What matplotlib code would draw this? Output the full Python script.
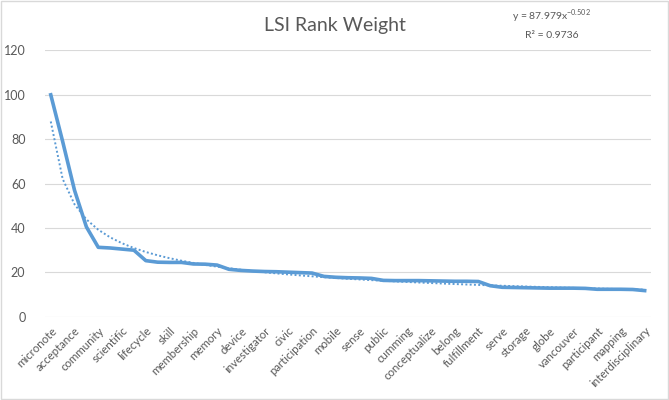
import matplotlib
matplotlib.use("Agg")
import matplotlib.pyplot as plt
import numpy as np
from matplotlib.patches import Rectangle

plt.rcParams["font.family"] = ["Lato", "DejaVu Sans"]

# values (51 ranked terms, every other one labelled)
weights = [100, 79, 57, 40.5, 31.3, 31, 30.5, 30, 25.3, 24.6,
           24.5, 24.5, 23.8, 23.7, 23.3, 21.4, 20.9, 20.6, 20.4, 20.3,
           20.1, 19.9, 19.7, 18.2, 17.8, 17.6, 17.5, 17.3, 16.4, 16.3,
           16.3, 16.3, 16.2, 16.1, 16.0, 16.0, 15.9, 14.0, 13.3, 13.2,
           13.1, 13.0, 12.9, 12.9, 12.9, 12.8, 12.4, 12.4, 12.4, 12.3,
           11.8]
tick_labels = ["micronote", "acceptance", "community", "scientific", "lifecycle",
               "skill", "membership", "memory", "device", "investigator",
               "civic", "participation", "mobile", "sense", "public",
               "cumming", "conceptualize", "belong", "fulfillment", "serve",
               "storage", "globe", "vancouver", "participant", "mapping",
               "interdisciplinary"]
y_ticks = [0, 20, 40, 60, 80, 100, 120]

# power trendline shown on the chart
trend_a = 87.979
trend_b = -0.502
trend_r2 = 0.9736

blue = "#5B9BD5"
grey_text = "#595959"
grid_col = "#D9D9D9"

fig = plt.figure(figsize = (6.69, 4.0), dpi = 100)
ax = fig.add_axes([0.067, 0.208, 0.9055, 0.666])

x = np.arange(len(weights))
ax.plot(x, weights, color = blue, lw = 2.6, solid_joinstyle = "round", zorder = 3)

rank = x + 1
ax.plot(x, trend_a * rank ** trend_b, color = blue, lw = 1.4,
        linestyle = (0, (1, 1.2)), zorder = 2)

ax.set_xlim(-0.5, len(weights) - 0.5)
ax.set_ylim(0, 120)
ax.set_yticks(y_ticks)
ax.set_yticklabels([str(v) for v in y_ticks], color = grey_text, fontsize = 9)
ax.yaxis.grid(True, color = grid_col, lw = 0.8)
ax.set_axisbelow(True)

ax.set_xticks(x[::2])
ax.set_xticklabels(tick_labels, rotation = 45, ha = "right", rotation_mode = "anchor",
                   color = grey_text, fontsize = 8.3)
ax.tick_params(axis = "both", length = 0, pad = 6)
ax.tick_params(axis = "y", pad = 14)
for s in ax.spines.values():
    s.set_visible(False)

fig.text(0.5, 0.937, "LSI Rank Weight", ha = "center", va = "center",
         fontsize = 14, color = grey_text)
fig.text(0.825, 0.958, r"y = 87.979x$^{\mathregular{-0.502}}$", ha = "center", va = "center",
         fontsize = 7.5, color = grey_text)
fig.text(0.825, 0.912, f"R² = {trend_r2}", ha = "center", va = "center",
         fontsize = 7.5, color = grey_text)

fig.patches.append(Rectangle((0.001, 0.002), 0.997, 0.995, transform = fig.transFigure,
                             fill = False, edgecolor = grid_col, lw = 1.0))

fig.savefig("out.png", dpi = 100)
